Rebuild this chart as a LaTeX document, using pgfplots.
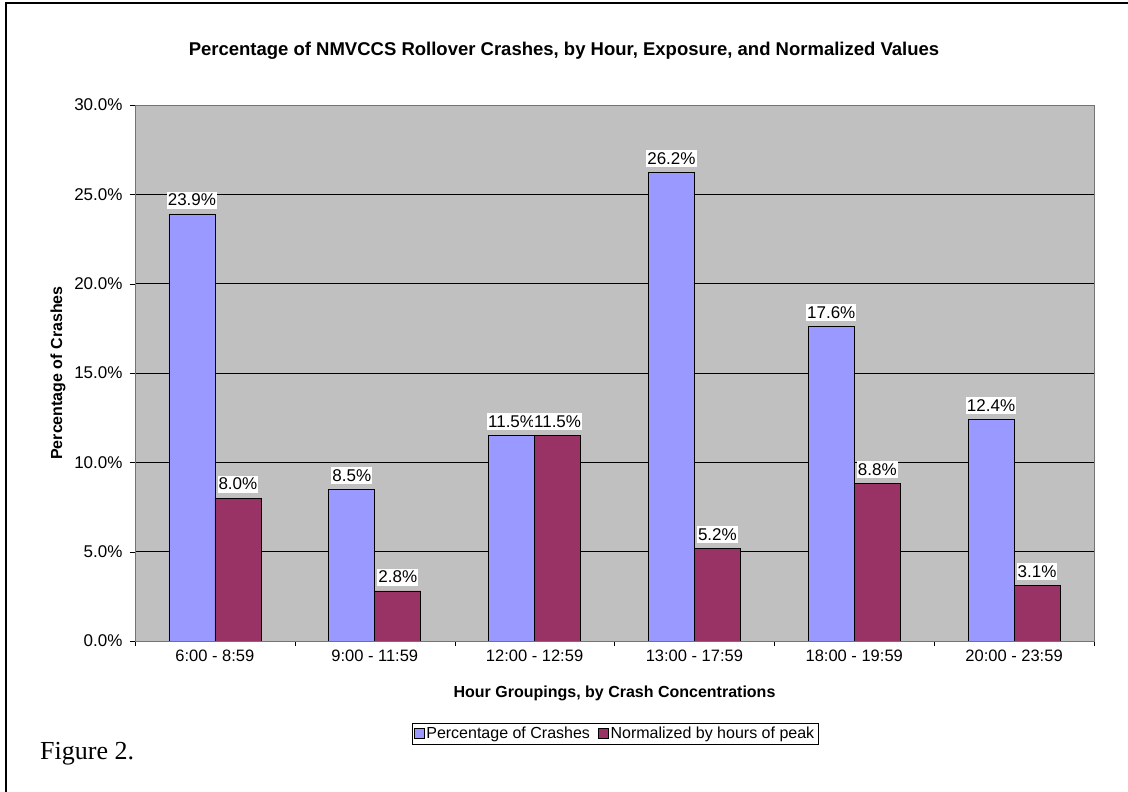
\documentclass[border=0pt]{standalone}
\usepackage{pgfplots}
\pgfplotsset{compat=1.18}
\usepackage{fontspec}
\setmainfont{Liberation Sans}
\newfontfamily\timesfont{Liberation Serif}

\definecolor{crashblue}{HTML}{9999FF}
\definecolor{peakred}{HTML}{993366}
\definecolor{plotgray}{HTML}{C0C0C0}

\pgfplotstableread{
x share norm
0 23.9 8.0
1 8.5 2.8
2 11.5 11.5
3 26.2 5.2
4 17.6 8.8
5 12.4 3.1
}\rollover

\begin{document}
\begin{tikzpicture}[x=1pt, y=1pt, font=\fontsize{16}{19}\selectfont]
\path[use as bounding box] (0,0) rectangle (1128,792);
\draw[line width=1.5pt] (6,0) -- (6,789) -- (1128,789);

\node[font=\fontsize{18.5}{22}\selectfont\bfseries] at (564,741)
  {Percentage of NMVCCS Rollover Crashes, by Hour, Exposure, and Normalized Values};

\begin{axis}[
  at={(135pt,151pt)}, anchor=south west,
  width=959pt, height=536pt, scale only axis,
  /pgf/number format/assume math mode=true,
  ybar=0pt, bar width=46pt,
  xmin=-0.5, xmax=5.5, ymin=0, ymax=30,
  axis background/.style={fill=plotgray},
  axis line style={draw=black!55},
  ytick={0,5,...,30},
  yticklabel={\pgfmathprintnumber[fixed,fixed zerofill,precision=1]{\tick}\%},
  yticklabel style={font=\fontsize{17}{20}\selectfont, xshift=-4pt},
  xticklabel style={font=\fontsize{16.5}{20}\selectfont},
  ymajorgrids, grid style={black, line width=0.8pt},
  xtick={0,...,5},
  xticklabels={6:00 - 8:59, 9:00 - 11:59, 12:00 - 12:59, 13:00 - 17:59, 18:00 - 19:59, 20:00 - 23:59},
  minor xtick={-0.5,0.5,...,5.5},
  tick align=outside, tick pos=left,
  major tick length=5pt, minor tick length=5pt,
  x tick style={draw=none}, minor x tick style={draw=black},
  y tick style={black},
  xlabel={\bfseries Hour Groupings, by Crash Concentrations},
  xlabel style={at={(axis description cs:0.5,-0.097)}, anchor=center},
  ylabel={\bfseries Percentage of Crashes},
  ylabel style={at={(axis description cs:-0.0803,0.5)}, anchor=center},
  nodes near coords={\pgfmathprintnumber[fixed,fixed zerofill,precision=1]{\pgfplotspointmeta}\%},
  every node near coord/.append style={fill=white, text=black, inner xsep=1pt, inner ysep=2.5pt,
    yshift=5pt, font=\fontsize{17}{20}\selectfont},
  legend style={at={(0.5005,-0.1726)}, anchor=center, draw=black, legend columns=2,
    inner sep=2pt, /tikz/every even column/.append style={column sep=6pt}},
  legend image code/.code={\draw[#1, draw=black, line width=0.6pt] (0pt,-5pt) rectangle (10pt,5pt);},
]
\addplot[fill=crashblue, draw=black, line width=0.8pt] table[x=x, y=share] {\rollover};
\addplot[fill=peakred, draw=black, line width=0.8pt] table[x=x, y=norm] {\rollover};
\legend{Percentage of Crashes, Normalized by hours of peak}
\draw[black, line width=0.8pt] (axis cs:-0.5,0) -- (axis cs:5.5,0);
\end{axis}

\node[anchor=base west, inner sep=0pt, font=\timesfont\fontsize{26}{30}\selectfont] at (40,32) {Figure 2.};
\end{tikzpicture}
\end{document}
